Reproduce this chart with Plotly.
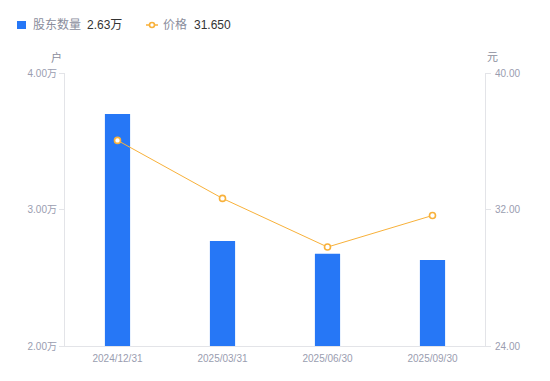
import plotly.graph_objects as go

dates = ["2024/12/31", "2025/03/31", "2025/06/30", "2025/09/30"]
holders = [3.70, 2.77, 2.675, 2.63]  # 万户
prices = [36.05, 32.65, 29.80, 31.65]
left_ticks = [2.0, 3.0, 4.0]
left_ticktext = ["2.00万", "3.00万", "4.00万"]
right_ticks = [24, 32, 40]
right_ticktext = ["24.00", "32.00", "40.00"]
legend_labels = ["股东数量", "价格"]
legend_values = ["2.63万", "31.650"]

FONT = "Liberation Sans, Arial, Noto Sans CJK SC, sans-serif"
TICK_COLOR = "#9a9db0"
AXIS_COLOR = "#e3e4e8"
BLUE = "#2677f6"
ORANGE = "#f8b13a"
W, H = 550, 381
L, R, T, B = 65, 65, 73, 35
PW, PH = W - L - R, H - T - B


def px_x(x):
    return (x - L) / PW


def px_y(y):
    return (H - B - y) / PH


fig = go.Figure()
fig.add_trace(go.Bar(
    x=dates, y=holders, name=legend_labels[0],
    marker=dict(color=BLUE, line=dict(width=0)), width=0.24, yaxis="y",
    hoverinfo="skip",
))
fig.add_trace(go.Scatter(
    x=dates, y=prices, name=legend_labels[1],
    mode="lines+markers", yaxis="y2",
    line=dict(color=ORANGE, width=1),
    marker=dict(symbol="circle", size=6, color="white", line=dict(color=ORANGE, width=1.6)),
    hoverinfo="skip",
))

ly = px_y(25)
shapes = [
    dict(type="rect", xref="paper", yref="paper", x0=px_x(17), x1=px_x(26),
         y0=px_y(29), y1=px_y(21), fillcolor=BLUE, line=dict(width=0), layer="above"),
    dict(type="line", xref="paper", yref="paper", x0=px_x(146), x1=px_x(158),
         y0=ly, y1=ly, line=dict(color=ORANGE, width=1.5), layer="above"),
    dict(type="circle", xref="paper", yref="paper", x0=px_x(149.5), x1=px_x(154.5),
         y0=px_y(27.5), y1=px_y(22.5), fillcolor="white",
         line=dict(color=ORANGE, width=1.6), layer="above"),
]

annotations = [
    dict(text=legend_labels[0], x=px_x(31), y=ly, xref="paper", yref="paper",
         xanchor="left", yanchor="middle", showarrow=False,
         font=dict(size=12, color="#8a8d9c")),
    dict(text=legend_values[0], x=px_x(85), y=ly, xref="paper", yref="paper",
         xanchor="left", yanchor="middle", showarrow=False,
         font=dict(size=12, color="#333333")),
    dict(text=legend_labels[1], x=px_x(161), y=ly, xref="paper", yref="paper",
         xanchor="left", yanchor="middle", showarrow=False,
         font=dict(size=12, color="#8a8d9c")),
    dict(text=legend_values[1], x=px_x(192), y=ly, xref="paper", yref="paper",
         xanchor="left", yanchor="middle", showarrow=False,
         font=dict(size=12, color="#333333")),
    dict(text="户", x=px_x(64), y=px_y(57), xref="paper", yref="paper",
         xanchor="right", yanchor="middle", showarrow=False,
         font=dict(size=11, color="#8a8d9c")),
    dict(text="元", x=px_x(485), y=px_y(57), xref="paper", yref="paper",
         xanchor="left", yanchor="middle", showarrow=False,
         font=dict(size=11, color="#8a8d9c")),
]

fig.update_layout(
    width=W, height=H,
    margin=dict(l=L, r=R, t=T, b=B),
    paper_bgcolor="white", plot_bgcolor="white",
    font=dict(family=FONT, size=12, color="#8a8d9c"),
    showlegend=False,
    hovermode=False,
    xaxis=dict(showgrid=False, showline=True, linecolor=AXIS_COLOR, linewidth=1,
               ticks="", tickfont=dict(size=10, color=TICK_COLOR), zeroline=False,
               ticklabelstandoff=3),
    yaxis=dict(range=[2.0, 4.0], tickvals=left_ticks, ticktext=left_ticktext,
               showgrid=False, showline=True, linecolor=AXIS_COLOR, linewidth=1,
               ticks="outside", ticklen=5, tickcolor=AXIS_COLOR,
               tickfont=dict(size=10, color=TICK_COLOR), zeroline=False),
    yaxis2=dict(range=[24, 40], tickvals=right_ticks, ticktext=right_ticktext,
                overlaying="y", side="right",
                showgrid=False, showline=True, linecolor=AXIS_COLOR, linewidth=1,
                ticks="outside", ticklen=5, tickcolor=AXIS_COLOR,
                tickfont=dict(size=10, color=TICK_COLOR), zeroline=False,
                ticklabelstandoff=2),
    shapes=shapes,
    annotations=annotations,
)

fig.write_html("out.html", config={"displayModeBar": False},
               post_script="document.body.style.margin='0';")
